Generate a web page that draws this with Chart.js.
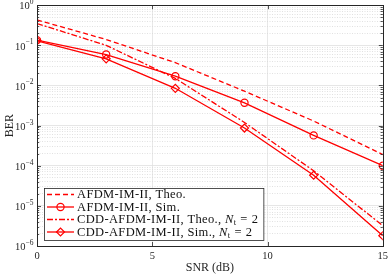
<!DOCTYPE html>
<html>
<head>
<meta charset="utf-8">
<title>BER vs SNR</title>
<script src="https://cdn.jsdelivr.net/npm/chart.js@4.4.1/dist/chart.umd.min.js"></script>
<style>
    html, body { margin: 0; padding: 0; background: #fff; }
    #contenedor { position: relative; width: 388px; height: 277px; }
</style>
</head>
<body>
<div id="contenedor"><canvas id="ber-grafica" width="388" height="277"></canvas></div>
<script>
// Datos (BER vs SNR)
const snr = [0, 3, 6, 9, 12, 15];
const afdmTeo = [0.43, 0.14, 0.037, 0.0072, 0.0013, 1.9e-4];
const afdmSim = [0.135, 0.059, 0.017, 0.0037, 5.7e-4, 1.0e-4];
const cddTeo = [0.35, 0.10, 0.015, 0.0012, 7.5e-5, 3.2e-6];
const cddSim = [0.13, 0.046, 0.0085, 8.7e-4, 5.8e-5, 1.8e-6];

const xTicks = [0, 5, 10, 15];
const yExponentes = [0, -1, -2, -3, -4, -5, -6];
const etiquetas = ['AFDM-IM-II, Theo.', 'AFDM-IM-II, Sim.', 'CDD-AFDM-IM-II, Theo., ', 'CDD-AFDM-IM-II, Sim., '];

(function () {
    const ROJO = '#ff0000';
    const SERIF = '"Liberation Serif", "Times New Roman", serif';

    const puntos = serie => snr.map((x, i) => ({ x: x, y: serie[i] }));
    const esDecada = v => Math.abs(Math.log10(v) - Math.round(Math.log10(v))) < 1e-9;

    // ticks de la escala log: decadas + menores
    const yValores = [];
    for (let e = -6; e <= 0; e++) {
        for (let m = 1; m <= 9; m++) {
            const v = m * Math.pow(10, e);
            if (v <= 1) yValores.push(v);
        }
    }

    const datasets = [
        { label: etiquetas[0], data: puntos(afdmTeo), borderDash: [5, 3], borderWidth: 1.3, pointRadius: 0 },
        { label: etiquetas[1], data: puntos(afdmSim), borderWidth: 1.3, pointStyle: 'circle', pointRadius: 3.6 },
        { label: etiquetas[2], data: puntos(cddTeo), borderDash: [6, 2, 2, 2], borderWidth: 1.3, pointRadius: 0 },
        { label: etiquetas[3], data: puntos(cddSim), borderWidth: 1.3, pointStyle: 'rectRot', pointRadius: 4 }
    ].map(d => Object.assign({
        borderColor: ROJO,
        backgroundColor: 'rgba(0,0,0,0)',
        pointBorderColor: ROJO,
        pointBackgroundColor: 'rgba(0,0,0,0)',
        pointBorderWidth: 1.2,
        tension: 0,
        fill: false
    }, d));

    // Dibuja marco, ticks internos, etiquetas y leyenda (estilo MATLAB)
    const marcoPlugin = {
        id: 'marco',
        afterDraw(chart) {
            const ctx = chart.ctx;
            const area = chart.chartArea;
            const xS = chart.scales.x;
            const yS = chart.scales.y;
            ctx.save();

            // ticks hacia dentro
            ctx.strokeStyle = '#262626';
            ctx.lineWidth = 0.8;
            ctx.beginPath();
            yValores.forEach(v => {
                const y = Math.round(yS.getPixelForValue(v)) + 0.5;
                const largo = esDecada(v) ? 4 : 2.2;
                ctx.moveTo(area.left, y); ctx.lineTo(area.left + largo, y);
                ctx.moveTo(area.right, y); ctx.lineTo(area.right - largo, y);
            });
            xTicks.forEach(v => {
                const x = Math.round(xS.getPixelForValue(v)) + 0.5;
                ctx.moveTo(x, area.bottom); ctx.lineTo(x, area.bottom - 4);
                ctx.moveTo(x, area.top); ctx.lineTo(x, area.top + 4);
            });
            ctx.stroke();

            // caja de los ejes
            ctx.lineWidth = 1;
            ctx.strokeStyle = '#262626';
            ctx.strokeRect(Math.round(area.left) + 0.5, Math.round(area.top) + 0.5,
                Math.round(area.right - area.left), Math.round(area.bottom - area.top));

            // etiquetas del eje y: 10^k
            ctx.fillStyle = '#262626';
            ctx.textBaseline = 'middle';
            ctx.textAlign = 'left';
            const fBase = '10.5px ' + SERIF;
            const fSup = '7.5px ' + SERIF;
            yExponentes.forEach(e => {
                const y = yS.getPixelForValue(Math.pow(10, e));
                const sup = e === 0 ? '0' : '\u2212' + (-e);
                ctx.font = fSup;
                const ws = ctx.measureText(sup).width;
                ctx.font = fBase;
                const wb = ctx.measureText('10').width;
                const derecha = area.left - 3.5;
                ctx.fillText('10', derecha - ws - wb, y + 1.5);
                ctx.font = fSup;
                ctx.fillText(sup, derecha - ws, y - 3);
            });

            // etiquetas del eje x
            ctx.font = fBase;
            ctx.textAlign = 'center';
            xTicks.forEach(v => {
                ctx.fillText(String(v), xS.getPixelForValue(v), area.bottom + 10);
            });

            // titulos de los ejes
            ctx.font = '12px ' + SERIF;
            ctx.fillText('SNR (dB)', (area.left + area.right) / 2, area.bottom + 22);
            ctx.save();
            ctx.translate(10, (area.top + area.bottom) / 2);
            ctx.rotate(-Math.PI / 2);
            ctx.fillText('BER', 0, 0);
            ctx.restore();

            // leyenda
            const fLey = '12.5px ' + SERIF;
            const fIt = 'italic 12.5px ' + SERIF;
            const fSub = '8.5px ' + SERIF;
            ctx.textAlign = 'left';
            ctx.letterSpacing = '0.35px';
            const piezas = etiquetas.map((t, i) => i < 2 ? [[t, fLey, 0, 0]] :
                [[t, fLey, 0, 0], ['N', fIt, 0, 0], ['t', fSub, 3, 4], ['=', fLey, 0, 4], ['2', fLey, 0, 0]]);
            const ancho = p => p.reduce((s, q) => { ctx.font = q[1]; return s + ctx.measureText(q[0]).width + q[3]; }, 0);
            const anchos = piezas.map(ancho);
            const lx = 44, ly = 188, filas = [194.5, 207, 219.5, 232];
            const lw = 33 + Math.max(...anchos) + 5;
            const lh = 52;
            ctx.fillStyle = '#fff';
            ctx.fillRect(lx, ly, lw, lh);
            ctx.lineWidth = 0.8;
            ctx.strokeStyle = '#262626';
            ctx.strokeRect(lx + 0.5, ly + 0.5, lw, lh);

            chart.data.datasets.forEach((d, i) => {
                const y = filas[i];
                ctx.strokeStyle = ROJO;
                ctx.lineWidth = d.borderWidth;
                ctx.setLineDash(d.borderDash || []);
                ctx.beginPath();
                ctx.moveTo(lx + 3, y); ctx.lineTo(lx + 30, y);
                ctx.stroke();
                ctx.setLineDash([]);
                if (d.pointRadius > 0) {
                    ctx.lineWidth = 1.2;
                    ctx.strokeStyle = ROJO;
                    ctx.fillStyle = 'rgba(0,0,0,0)';
                    Chart.helpers.drawPoint(ctx, { pointStyle: d.pointStyle, radius: d.pointRadius, borderWidth: 1.2, rotation: 0 }, lx + 16.5, y);
                }
                let x = lx + 33;
                ctx.fillStyle = '#111';
                piezas[i].forEach(q => {
                    ctx.font = q[1];
                    ctx.fillText(q[0], x, y + 0.5 + q[2]);
                    x += ctx.measureText(q[0]).width + q[3];
                });
            });

            ctx.restore();
        }
    };

    const ctxGrafica = document.getElementById('ber-grafica');
    new Chart(ctxGrafica, {
        type: 'line',
        data: { datasets: datasets },
        plugins: [marcoPlugin],
        options: {
            responsive: false,
            animation: false,
            devicePixelRatio: 1,
            layout: { padding: { top: 5, right: 5, left: 0, bottom: 0 } },
            plugins: {
                legend: { display: false },
                tooltip: { enabled: false }
            },
            scales: {
                x: {
                    type: 'linear',
                    min: 0,
                    max: 15,
                    afterBuildTicks: s => { s.ticks = xTicks.map(v => ({ value: v })); },
                    afterFit: s => { s.height = 31; },
                    ticks: { display: false },
                    border: { display: false },
                    grid: {
                        drawTicks: false,
                        lineWidth: 0.8,
                        color: c => (c.tick && c.tick.value > 0 && c.tick.value < 15) ? '#e2e2e2' : 'rgba(0,0,0,0)'
                    }
                },
                y: {
                    type: 'logarithmic',
                    min: 1e-6,
                    max: 1,
                    afterBuildTicks: s => { s.ticks = yValores.map(v => ({ value: v })); },
                    afterFit: s => { s.width = 37; },
                    ticks: { display: false },
                    border: {
                        display: false,
                        dash: c => (c.tick && !esDecada(c.tick.value)) ? [1, 1.5] : []
                    },
                    grid: {
                        drawTicks: false,
                        lineWidth: 0.8,
                        color: c => (c.tick && esDecada(c.tick.value)) ? '#e0e0e0' : '#d9d9d9'
                    }
                }
            }
        }
    });
})();
</script>
</body>
</html>
